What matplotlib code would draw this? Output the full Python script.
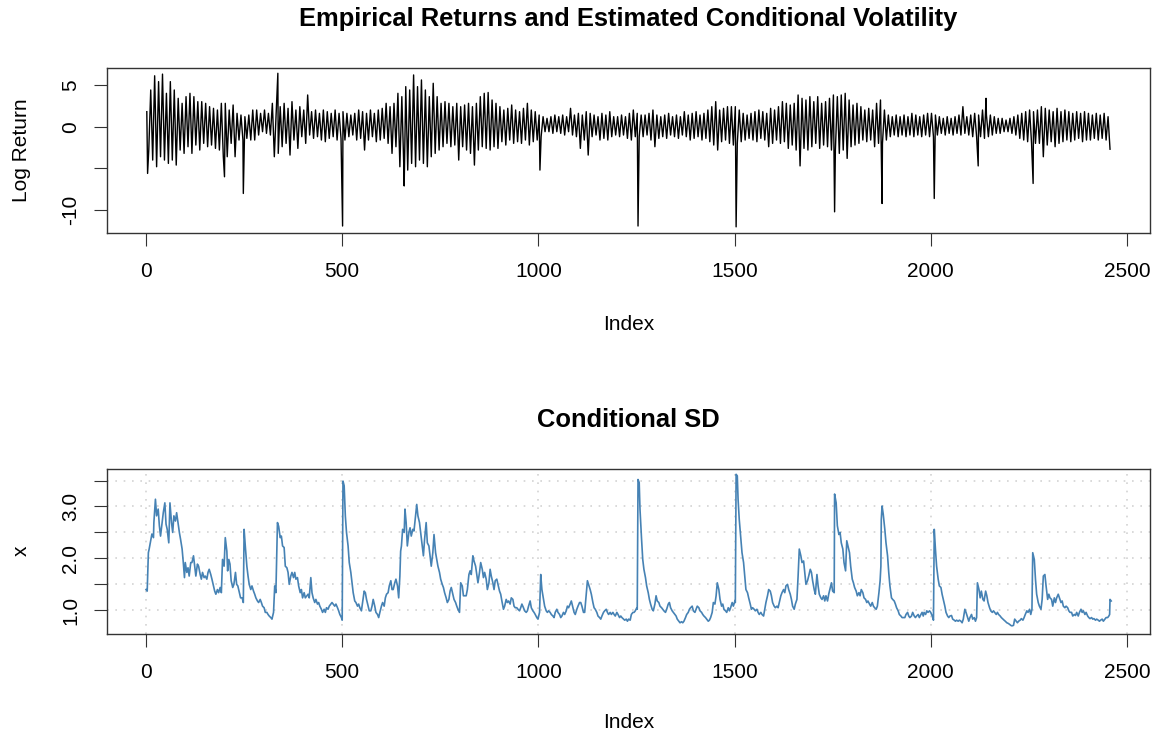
import numpy as np
import matplotlib.pyplot as plt

plt.rcParams['font.family'] = ['Liberation Sans', 'DejaVu Sans']

ret_hi = [1.8, 4.4, 6.1, 5.4, 6.3, 4.0, 5.4, 4.4, 3.4, 2.8,
          3.6, 4.0, 3.6, 3.0, 3.0, 2.8, 2.4, 2.2, 2.0, 2.8,
          2.8, 2.0, 2.6, 1.6, 1.4, 1.2, 1.4, 2.0, 2.0, 1.6,
          2.0, 1.6, 2.8, 2.0, 2.4, 2.8, 2.2, 3.0, 2.0, 2.4,
          2.0, 3.8, 1.8, 2.0, 1.6, 2.0, 1.8, 1.6, 2.0, 1.6,
          1.8, 1.6, 1.4, 1.6, 2.0, 1.8, 1.6, 2.0, 1.6, 2.0,
          2.2, 2.8, 2.4, 2.8, 4.0, 3.6, 4.8, 4.4, 6.2, 4.8,
          5.6, 4.4, 3.6, 5.2, 3.6, 2.8, 3.0, 2.8, 2.4, 2.8,
          2.4, 2.6, 2.8, 2.4, 2.8, 3.6, 4.0, 4.1, 3.2, 2.8,
          2.4, 2.0, 2.2, 2.6, 2.0, 1.8, 2.2, 2.8, 2.0, 1.8,
          1.4, 1.2, 1.0, 1.2, 1.4, 1.2, 1.4, 1.2, 2.2, 1.4,
          1.6, 1.4, 1.8, 1.6, 1.4, 1.2, 1.6, 1.4, 1.8, 1.2,
          1.2, 1.4, 1.2, 1.6, 2.0, 1.6, 1.4, 1.4, 1.6, 2.0,
          1.4, 1.2, 1.4, 1.6, 1.2, 1.4, 1.2, 1.8, 1.4, 1.6,
          1.8, 1.4, 1.6, 2.0, 2.4, 3.0, 2.0, 2.2, 2.4, 2.4,
          2.4, 2.0, 1.6, 1.4, 1.6, 1.8, 2.0, 1.8, 1.6, 2.2,
          2.0, 2.4, 3.0, 2.8, 2.6, 2.8, 3.8, 3.4, 3.2, 3.6,
          3.0, 3.6, 2.8, 3.0, 3.4, 3.8, 3.6, 3.8, 4.0, 3.2,
          2.6, 2.8, 2.4, 2.0, 2.2, 2.0, 2.8, 3.2, 2.0, 1.4,
          1.2, 1.4, 1.2, 1.4, 1.2, 1.6, 1.4, 1.2, 1.4, 1.6,
          1.6, 1.4, 1.2, 1.0, 1.2, 1.0, 1.2, 1.4, 2.4, 1.2,
          1.4, 1.6, 1.4, 2.0, 1.4, 1.4, 1.2, 1.0, 1.0, 0.8,
          1.0, 1.2, 1.4, 1.6, 1.8, 2.0, 1.8, 2.0, 2.4, 2.2,
          2.0, 1.8, 2.2, 1.8, 2.0, 1.8, 1.6, 1.8, 1.6, 1.8,
          1.6, 1.4, 1.6, 1.4, 1.6, 1.2]
ret_lo = [-2.8, -4.0, -4.8, -3.6, -4.0, -4.4, -4.0, -4.6, -2.8, -3.2,
          -2.4, -3.2, -2.2, -2.8, -2.0, -2.4, -2.2, -2.6, -2.8, -3.6,
          -3.6, -2.0, -3.6, -1.6, -1.6, -1.4, -1.6, -1.6, -1.0, -0.6,
          -0.8, -1.0, -3.6, -3.2, -2.4, -2.0, -3.4, -1.6, -2.6, -1.2,
          -2.0, -1.0, -1.4, -1.2, -1.6, -1.8, -1.4, -1.2, -1.6, -1.4,
          -1.6, -1.2, -1.0, -1.6, -1.4, -2.8, -1.6, -1.2, -1.8, -1.6,
          -1.4, -2.0, -3.2, -2.4, -4.8, -4.8, -5.2, -4.4, -4.8, -4.0,
          -4.4, -4.8, -3.6, -3.2, -2.8, -2.4, -2.0, -2.4, -2.2, -4.0,
          -2.4, -2.8, -3.2, -4.6, -2.8, -2.4, -2.6, -2.8, -2.4, -2.6,
          -1.8, -2.2, -1.6, -2.0, -1.8, -2.0, -1.6, -2.2, -1.8, -1.6,
          -1.2, -0.6, -0.6, -0.8, -0.6, -0.8, -1.0, -0.6, -1.0, -1.2,
          -2.6, -1.6, -3.4, -1.2, -1.0, -1.6, -1.4, -1.6, -1.2, -1.0,
          -1.2, -1.0, -1.4, -1.6, -1.2, -1.2, -1.2, -1.0, -1.6, -2.4,
          -1.4, -1.2, -1.4, -1.0, -1.2, -1.4, -1.0, -1.2, -1.6, -1.4,
          -1.2, -1.6, -1.4, -1.8, -2.2, -2.8, -1.8, -1.6, -2.0, -2.2,
          -2.0, -1.8, -1.6, -1.4, -1.6, -1.8, -1.4, -1.6, -2.4, -2.0,
          -1.6, -2.0, -1.8, -2.6, -2.2, -2.8, -4.7, -2.6, -2.8, -2.4,
          -2.0, -2.6, -2.2, -2.4, -2.8, -2.8, -3.2, -2.8, -3.8, -2.4,
          -2.2, -2.0, -1.6, -1.8, -1.6, -2.4, -2.0, -2.0, -1.6, -1.2,
          -1.0, -1.2, -1.0, -1.2, -1.0, -1.2, -1.0, -1.2, -1.0, -1.2,
          -1.2, -1.0, -0.8, -1.0, -0.8, -1.0, -0.8, -1.0, -0.8, -1.0,
          -1.2, -1.2, -1.2, -1.4, -1.2, -1.0, -0.8, -0.8, -0.6, -0.6,
          -0.8, -1.0, -1.4, -1.6, -1.8, -2.0, -2.0, -2.0, -3.6, -2.2,
          -1.8, -2.4, -2.0, -1.8, -1.6, -1.8, -1.6, -1.4, -1.8, -1.6,
          -1.6, -1.4, -1.6, -1.4, -1.6, -2.7]
block = 10

# single large moves
spike_idx = [4, 200, 248, 336, 501, 658, 1004, 1254, 1504, 1755, 1876, 2009, 2121, 2141, 2261]
spike_val = [-5.6, -6.0, -8.0, 6.4, -11.9, -7.1, -5.2, -11.9, -12.0, -10.2, -9.2, -8.6, -4.7, 3.4, -6.8]

# conditional standard deviation
sd_idx = [0, 3, 6, 8, 12, 15, 19, 20, 24, 27, 31, 34, 37, 41, 44, 48, 51, 54, 58, 61,
          65, 68, 71, 75, 78, 82, 85, 88, 92, 95, 98, 100, 104, 107, 110, 114, 117, 121, 124, 127,
          131, 134, 138, 141, 144, 148, 151, 155, 158, 161, 165, 168, 172, 175, 178, 182, 185, 189, 192, 195,
          199, 202, 206, 208, 211, 214, 217, 221, 224, 228, 231, 234, 238, 241, 245, 248, 250, 253, 257, 260,
          263, 267, 270, 274, 277, 280, 284, 287, 291, 294, 297, 301, 304, 308, 311, 314, 318, 321, 325, 328,
          331, 335, 338, 342, 345, 348, 352, 355, 359, 362, 365, 369, 372, 376, 379, 382, 386, 389, 393, 396,
          399, 403, 406, 410, 413, 416, 420, 423, 426, 430, 433, 437, 440, 443, 447, 450, 454, 457, 460, 464,
          467, 471, 474, 477, 481, 484, 488, 491, 494, 498, 500, 502, 505, 508, 511, 515, 518, 522, 525, 528,
          532, 535, 539, 542, 545, 549, 552, 556, 559, 562, 566, 569, 573, 576, 579, 583, 586, 590, 593, 596,
          600, 603, 607, 610, 613, 617, 620, 624, 627, 630, 634, 637, 641, 644, 647, 649, 651, 654, 658, 660,
          663, 666, 670, 673, 676, 680, 683, 687, 690, 693, 697, 700, 704, 707, 710, 714, 717, 721, 724, 727,
          731, 734, 738, 741, 744, 748, 751, 755, 758, 761, 765, 768, 772, 775, 778, 782, 785, 789, 792, 795,
          799, 802, 806, 809, 812, 816, 819, 823, 826, 829, 833, 836, 840, 843, 846, 850, 853, 857, 860, 863,
          867, 870, 874, 877, 880, 884, 887, 890, 894, 897, 901, 904, 907, 911, 914, 918, 921, 924, 928, 931,
          935, 938, 941, 945, 948, 952, 955, 958, 962, 965, 969, 972, 975, 979, 982, 986, 989, 992, 996, 999,
          1003, 1006, 1009, 1013, 1016, 1020, 1023, 1026, 1030, 1033, 1037, 1040, 1043, 1047, 1050, 1054, 1057, 1060, 1064, 1067,
          1071, 1074, 1077, 1081, 1084, 1088, 1091, 1094, 1098, 1101, 1105, 1108, 1111, 1115, 1118, 1122, 1125, 1128, 1132, 1135,
          1139, 1142, 1145, 1149, 1152, 1156, 1159, 1162, 1166, 1169, 1173, 1176, 1179, 1183, 1186, 1190, 1193, 1196, 1200, 1203,
          1207, 1210, 1213, 1217, 1220, 1224, 1227, 1230, 1234, 1237, 1241, 1244, 1247, 1251, 1252, 1254, 1257, 1259, 1263, 1266,
          1269, 1273, 1276, 1280, 1283, 1286, 1290, 1293, 1297, 1300, 1303, 1307, 1310, 1314, 1317, 1320, 1324, 1327, 1331, 1334,
          1337, 1341, 1344, 1348, 1351, 1354, 1358, 1361, 1365, 1368, 1371, 1375, 1378, 1382, 1385, 1388, 1392, 1395, 1399, 1402,
          1405, 1409, 1412, 1416, 1419, 1422, 1426, 1429, 1433, 1436, 1439, 1443, 1446, 1450, 1453, 1456, 1460, 1463, 1467, 1470,
          1473, 1477, 1480, 1484, 1487, 1490, 1494, 1497, 1501, 1502, 1504, 1507, 1509, 1512, 1516, 1519, 1523, 1526, 1529, 1533,
          1536, 1540, 1543, 1546, 1550, 1553, 1557, 1560, 1563, 1567, 1570, 1574, 1577, 1580, 1584, 1587, 1591, 1594, 1597, 1601,
          1604, 1608, 1611, 1614, 1618, 1621, 1625, 1628, 1631, 1635, 1638, 1642, 1645, 1648, 1652, 1655, 1659, 1662, 1665, 1669,
          1672, 1676, 1679, 1682, 1686, 1689, 1693, 1696, 1699, 1703, 1706, 1710, 1713, 1716, 1720, 1723, 1727, 1730, 1733, 1737,
          1740, 1744, 1747, 1750, 1754, 1755, 1759, 1762, 1766, 1769, 1772, 1776, 1779, 1783, 1786, 1789, 1793, 1796, 1800, 1803,
          1806, 1810, 1813, 1817, 1820, 1823, 1827, 1830, 1834, 1837, 1840, 1844, 1847, 1851, 1854, 1857, 1861, 1864, 1868, 1871,
          1873, 1874, 1876, 1879, 1883, 1886, 1890, 1893, 1896, 1900, 1903, 1907, 1910, 1913, 1917, 1920, 1924, 1927, 1930, 1934,
          1937, 1941, 1944, 1947, 1951, 1954, 1958, 1961, 1964, 1968, 1971, 1975, 1978, 1981, 1983, 1987, 1990, 1993, 1997, 2000,
          2004, 2007, 2009, 2012, 2015, 2019, 2022, 2026, 2029, 2032, 2036, 2039, 2043, 2046, 2049, 2053, 2056, 2060, 2063, 2066,
          2070, 2073, 2077, 2080, 2083, 2087, 2090, 2094, 2097, 2100, 2104, 2107, 2111, 2114, 2117, 2119, 2123, 2126, 2129, 2133,
          2136, 2140, 2143, 2146, 2150, 2153, 2157, 2160, 2163, 2167, 2170, 2173, 2177, 2180, 2184, 2187, 2190, 2194, 2197, 2201,
          2204, 2207, 2211, 2214, 2218, 2221, 2224, 2228, 2231, 2235, 2238, 2241, 2245, 2248, 2252, 2255, 2258, 2260, 2264, 2267,
          2270, 2274, 2277, 2281, 2284, 2287, 2291, 2294, 2298, 2301, 2304, 2308, 2311, 2315, 2318, 2321, 2325, 2328, 2332, 2335,
          2338, 2342, 2345, 2349, 2352, 2355, 2359, 2362, 2366, 2369, 2372, 2376, 2379, 2383, 2386, 2389, 2393, 2396, 2400, 2403,
          2406, 2410, 2413, 2416, 2420, 2423, 2427, 2430, 2433, 2437, 2440, 2444, 2447, 2451, 2454, 2456, 2457, 2460]
sd_val = [1.40, 1.37, 2.11, 2.18, 2.34, 2.47, 2.40, 2.69, 3.14, 2.82, 2.95, 2.63, 2.43, 2.69, 2.88, 3.07, 2.66, 2.56, 2.30, 3.07,
          2.69, 2.50, 2.82, 2.72, 2.88, 2.66, 2.50, 2.37, 2.18, 1.92, 1.63, 1.92, 1.73, 1.82, 1.66, 1.92, 1.92, 2.05, 1.85, 1.66,
          1.89, 1.85, 1.69, 1.60, 1.73, 1.63, 1.66, 1.60, 1.73, 1.79, 1.69, 1.60, 1.47, 1.37, 1.31, 1.40, 1.34, 1.44, 1.34, 1.98,
          1.85, 2.40, 2.14, 1.76, 1.98, 1.89, 1.57, 1.44, 1.50, 1.73, 1.50, 1.47, 1.34, 1.24, 1.24, 1.15, 2.56, 2.24, 1.85, 1.66,
          1.50, 1.40, 1.47, 1.37, 1.31, 1.24, 1.18, 1.15, 1.21, 1.15, 1.08, 1.05, 0.96, 0.96, 0.92, 0.89, 0.86, 0.83, 0.96, 1.47,
          1.34, 2.69, 2.62, 2.40, 2.43, 2.24, 2.21, 1.85, 1.82, 1.73, 1.50, 1.66, 1.73, 1.63, 1.73, 1.60, 1.63, 1.47, 1.34, 1.40,
          1.24, 1.34, 1.24, 1.28, 1.31, 1.24, 1.63, 1.34, 1.24, 1.15, 1.21, 1.12, 1.15, 1.08, 1.02, 0.96, 1.02, 0.96, 1.05, 1.02,
          1.08, 1.12, 1.15, 1.12, 1.08, 1.12, 1.05, 0.99, 0.92, 0.86, 0.81, 3.49, 3.40, 2.82, 2.50, 2.24, 1.92, 1.73, 1.53, 1.34,
          1.18, 1.15, 1.08, 1.12, 1.05, 0.99, 1.15, 1.37, 1.34, 1.21, 1.08, 0.99, 0.99, 1.08, 1.21, 1.08, 0.96, 0.92, 0.86, 0.96,
          1.08, 1.15, 1.08, 1.24, 1.31, 1.34, 1.47, 1.57, 1.40, 1.40, 1.53, 1.60, 1.47, 1.24, 1.66, 2.14, 2.24, 2.56, 2.50, 2.95,
          2.69, 2.24, 2.50, 2.59, 2.43, 2.56, 2.53, 2.82, 3.04, 2.82, 2.69, 2.50, 2.24, 2.05, 2.37, 2.69, 2.30, 2.24, 2.05, 1.85,
          2.11, 2.46, 2.11, 1.98, 1.85, 1.73, 1.60, 1.50, 1.44, 1.34, 1.24, 1.15, 1.21, 1.37, 1.44, 1.31, 1.21, 1.15, 1.08, 1.02,
          0.96, 1.53, 1.47, 1.28, 1.28, 1.28, 1.40, 1.69, 1.76, 1.69, 2.05, 1.95, 1.85, 1.69, 1.53, 1.73, 1.92, 1.79, 1.63, 1.73,
          1.60, 1.40, 1.53, 1.79, 1.66, 1.53, 1.40, 1.57, 1.60, 1.50, 1.37, 1.31, 1.18, 1.02, 1.08, 1.21, 1.15, 1.18, 1.12, 1.24,
          1.21, 1.08, 1.05, 1.05, 1.02, 0.99, 1.05, 1.12, 1.05, 0.99, 0.96, 0.99, 1.08, 1.18, 1.05, 0.99, 0.96, 0.92, 0.86, 0.83,
          0.96, 1.69, 1.40, 1.21, 1.08, 0.99, 0.96, 0.99, 0.96, 0.92, 0.89, 0.86, 0.96, 1.02, 0.96, 0.92, 0.86, 0.89, 0.96, 0.92,
          0.99, 1.08, 1.05, 1.12, 1.18, 1.05, 0.96, 0.92, 1.02, 1.08, 1.15, 1.15, 1.08, 0.96, 0.96, 1.31, 1.57, 1.50, 1.40, 1.31,
          1.15, 1.05, 1.02, 0.96, 0.89, 0.86, 0.83, 0.89, 0.96, 0.99, 1.02, 0.96, 0.92, 0.96, 0.92, 0.96, 0.92, 0.89, 0.96, 0.92,
          0.86, 0.89, 0.86, 0.83, 0.81, 0.83, 0.79, 0.83, 0.81, 0.92, 0.96, 0.96, 0.99, 1.05, 1.02, 3.52, 3.46, 2.95, 2.37, 1.98,
          1.79, 1.63, 1.47, 1.34, 1.21, 1.12, 1.02, 0.99, 1.12, 1.28, 1.18, 1.15, 1.08, 1.05, 1.02, 0.99, 0.96, 1.02, 1.12, 1.15,
          1.05, 0.99, 0.96, 0.92, 0.89, 0.83, 0.79, 0.76, 0.78, 0.76, 0.79, 0.86, 0.92, 0.96, 1.02, 1.05, 1.08, 0.99, 0.96, 1.02,
          1.08, 1.05, 0.99, 0.96, 0.92, 0.89, 0.86, 0.83, 0.79, 0.81, 0.86, 0.96, 1.15, 1.12, 1.28, 1.53, 1.40, 1.21, 1.08, 1.12,
          1.02, 0.99, 0.96, 1.05, 0.99, 1.05, 1.15, 1.08, 1.18, 1.15, 3.62, 3.59, 3.14, 2.75, 2.37, 2.11, 1.92, 1.66, 1.40, 1.34,
          1.24, 1.12, 1.02, 1.05, 1.02, 0.99, 1.02, 0.96, 0.92, 0.96, 0.92, 0.89, 1.02, 1.15, 1.28, 1.40, 1.37, 1.28, 1.15, 1.08,
          1.05, 1.08, 1.05, 1.15, 1.28, 1.34, 1.40, 1.34, 1.47, 1.50, 1.40, 1.31, 1.21, 1.08, 1.02, 1.12, 1.21, 1.66, 2.18, 2.05,
          1.92, 1.95, 1.73, 1.50, 1.57, 1.66, 1.79, 1.73, 1.57, 1.40, 1.31, 1.69, 1.47, 1.31, 1.24, 1.21, 1.28, 1.18, 1.28, 1.18,
          1.31, 1.44, 1.53, 1.37, 1.34, 3.24, 3.07, 2.63, 2.46, 2.50, 2.30, 2.18, 1.92, 1.76, 2.34, 2.24, 2.11, 1.85, 1.60, 1.53,
          1.44, 1.37, 1.28, 1.34, 1.28, 1.40, 1.34, 1.24, 1.21, 1.15, 1.18, 1.12, 1.08, 1.15, 1.08, 1.05, 1.02, 1.08, 1.34, 1.57,
          1.85, 2.75, 3.01, 2.85, 2.56, 2.30, 2.05, 1.73, 1.47, 1.24, 1.21, 1.18, 1.12, 1.05, 0.99, 0.92, 0.89, 0.86, 0.86, 0.86,
          0.92, 0.96, 0.89, 0.86, 0.89, 0.96, 0.89, 0.86, 0.89, 0.92, 0.86, 0.92, 0.96, 0.89, 0.96, 0.92, 0.99, 0.96, 0.99, 0.96,
          0.89, 0.81, 2.56, 2.18, 1.85, 1.60, 1.47, 1.44, 1.31, 1.21, 1.08, 0.96, 0.89, 0.86, 0.89, 0.90, 0.83, 0.81, 0.79, 0.81,
          0.79, 0.81, 0.79, 0.76, 0.83, 1.02, 0.96, 0.86, 0.79, 0.86, 0.92, 0.83, 0.86, 0.79, 0.86, 1.53, 1.40, 1.24, 1.37, 1.21,
          1.18, 1.37, 1.28, 1.15, 1.05, 0.99, 0.96, 0.99, 0.96, 0.92, 0.96, 0.92, 0.89, 0.86, 0.83, 0.81, 0.79, 0.76, 0.75, 0.73,
          0.71, 0.70, 0.71, 0.83, 0.79, 0.76, 0.79, 0.81, 0.84, 0.81, 0.86, 0.92, 0.99, 0.96, 1.02, 0.92, 1.02, 2.11, 1.98, 1.60,
          1.31, 1.15, 1.08, 1.02, 1.21, 1.66, 1.69, 1.47, 1.21, 1.31, 1.24, 1.21, 1.08, 1.24, 1.15, 1.24, 1.31, 1.24, 1.15, 1.18,
          1.08, 1.05, 1.08, 1.05, 0.99, 0.96, 0.96, 0.89, 0.92, 0.90, 0.96, 0.89, 0.96, 1.02, 0.96, 0.99, 0.92, 0.96, 0.89, 0.86,
          0.84, 0.86, 0.83, 0.84, 0.81, 0.83, 0.81, 0.79, 0.81, 0.83, 0.79, 0.83, 0.86, 0.86, 0.89, 0.92, 1.21, 1.18]

# build the return path: each block swings to its high then its low, plus the big moves
starts = np.arange(len(ret_hi)) * block
ret_x = np.concatenate([starts + 2, starts + 7, spike_idx])
ret_y = np.concatenate([ret_hi, ret_lo, spike_val])
order = np.argsort(ret_x, kind='stable')
ret_x = ret_x[order]
ret_y = ret_y[order]

fig = plt.figure(figsize=(11.52, 7.38), dpi=100)
ax1 = fig.add_axes([0.0929, 0.6847, 0.9054, 0.2228])
ax2 = fig.add_axes([0.0929, 0.1413, 0.9054, 0.2236])

xticks = [0, 500, 1000, 1500, 2000, 2500]

ax1.plot(ret_x, ret_y, color='black', lw=1.0)
ax1.set_xlim(-99.4, 2559)
ax1.set_ylim(-12.7, 7.0)
ax1.set_yticks([-10, -5, 0, 5])
ax1.set_yticklabels(['-10', '', '0', '5'])
ax1.set_ylabel('Log Return', fontsize=15, labelpad=22)

ax2.grid(True, color='#d3d3d3', linestyle=(0, (1, 4)), lw=1.2)
ax2.set_axisbelow(True)
ax2.plot(sd_idx, sd_val, color='steelblue', lw=1.2)
ax2.set_xlim(-99.4, 2559)
ax2.set_ylim(0.549, 3.728)
ax2.set_yticks([1.0, 1.5, 2.0, 2.5, 3.0, 3.5])
ax2.set_yticklabels(['1.0', '', '2.0', '', '3.0', ''])
ax2.set_ylabel('x', fontsize=15, labelpad=22)

for ax in (ax1, ax2):
    ax.set_xticks(xticks)
    ax.set_xticklabels([str(t) for t in xticks])
    ax.tick_params(direction='out', length=9.4, width=0.8, labelsize=15, pad=10, color='#333333')
    ax.tick_params(axis='x', pad=12)
    for lbl in ax.get_yticklabels():
        lbl.set_rotation(90)
        lbl.set_va('center')
    for s in ax.spines.values():
        s.set_color('#333333')
        s.set_linewidth(1.0)

ax1.set_xlabel('Index', fontsize=15, labelpad=24)
ax2.set_xlabel('Index', fontsize=15, labelpad=22)

fig.text(0.5456, 0.9745, 'Empirical Returns and Estimated Conditional Volatility',
         ha='center', va='center', fontsize=18.4, fontweight='bold')
fig.text(0.5456, 0.431, 'Conditional SD', ha='center', va='center', fontsize=18.4, fontweight='bold')

fig.savefig('out.png', dpi=100)
